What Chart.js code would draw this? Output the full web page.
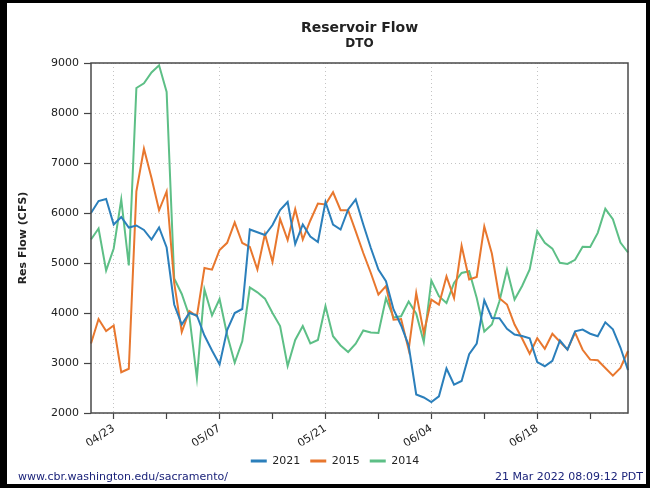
<!DOCTYPE html>
<html>
<head>
<meta charset="utf-8">
<title>Reservoir Flow - DTO</title>
<script src="https://cdn.jsdelivr.net/npm/chart.js@4.4.1/dist/chart.umd.min.js"></script>
<style>
  html, body { margin: 0; padding: 0; background: #fff; }
  #wrap { position: relative; width: 650px; height: 488px; }
  #frame { position: absolute; left: 0; top: 0; width: 650px; height: 488px; box-sizing: border-box;
           border-style: solid; border-color: #000; border-width: 3px 4px 4px 7px; pointer-events: none; }
  canvas { position: absolute; left: 0; top: 0; }
</style>
</head>
<body>
<div id="wrap">
  <canvas id="flowChart" width="650" height="488"></canvas>
  <div id="frame"></div>
</div>
<script>
// Daily dates 04/20 - 06/30
const dates = [
  '04/20','04/21','04/22','04/23','04/24','04/25','04/26','04/27','04/28','04/29','04/30',
  '05/01','05/02','05/03','05/04','05/05','05/06','05/07','05/08','05/09','05/10',
  '05/11','05/12','05/13','05/14','05/15','05/16','05/17','05/18','05/19','05/20',
  '05/21','05/22','05/23','05/24','05/25','05/26','05/27','05/28','05/29','05/30','05/31',
  '06/01','06/02','06/03','06/04','06/05','06/06','06/07','06/08','06/09','06/10',
  '06/11','06/12','06/13','06/14','06/15','06/16','06/17','06/18','06/19','06/20',
  '06/21','06/22','06/23','06/24','06/25','06/26','06/27','06/28','06/29','06/30'
];

// tick labels on the x axis (labelled + unlabelled tick marks)
const majorTicks = ['04/23', '05/07', '05/21', '06/04', '06/18'];
const minorTicks = ['04/30', '05/14', '05/28', '06/11', '06/25'];

// Res Flow (CFS)
const flow2021 = [
  6000, 6240, 6280, 5770, 5920, 5710, 5750, 5660, 5470, 5710, 5310,
  4170, 3770, 4000, 3950, 3550, 3250, 2970, 3660, 4000, 4080,
  5670, 5615, 5560, 5760, 6060, 6220, 5380, 5770, 5530, 5420,
  6220, 5770, 5670, 6070, 6270, 5770, 5300, 4870, 4635, 4070,
  3750, 3350, 2370, 2310, 2220, 2333, 2890, 2567, 2640, 3175,
  3390, 4255, 3900, 3895, 3685, 3570, 3540, 3495, 3018, 2935,
  3045, 3450, 3268, 3635, 3668, 3585, 3535, 3815, 3675, 3310, 2858
];
const flow2015 = [
  3390, 3880, 3640, 3750, 2815, 2885, 6435, 7285, 6700, 6055, 6430,
  4600, 3620, 4040, 3935, 4900, 4866, 5260, 5403, 5810, 5400,
  5323, 4870, 5580, 5020, 5880, 5460, 6075, 5470, 5850, 6190,
  6170, 6415, 6055, 6055, 5633, 5200, 4800, 4370, 4540, 3867,
  3880, 3267, 4400, 3600, 4267, 4167, 4730, 4300, 5343, 4670,
  4720, 5730, 5190, 4295, 4170, 3770, 3490, 3185, 3495, 3285,
  3585, 3425, 3268, 3608, 3265, 3067, 3054, 2900, 2747, 2900, 3240
];
const flow2014 = [
  5470, 5690, 4850, 5290, 6270, 4950, 8500, 8595, 8810, 8955, 8420,
  4690, 4380, 3940, 2700, 4470, 3950, 4280, 3567, 3005, 3433,
  4510, 4413, 4287, 4000, 3740, 2940, 3460, 3740, 3390, 3460,
  4140, 3535, 3350, 3220, 3385, 3650, 3610, 3600, 4295, 3910,
  3935, 4230, 3985, 3418, 4650, 4335, 4200, 4600, 4800, 4835,
  4300, 3628, 3770, 4235, 4870, 4270, 4540, 4870, 5636, 5403,
  5287, 5003, 4980, 5063, 5323, 5320, 5603, 6084, 5877, 5410, 5210
];

const yMin = 2000, yMax = 9000, yStep = 1000;

Chart.defaults.font.family = "'DejaVu Sans', sans-serif";
Chart.defaults.font.size = 11;
Chart.defaults.color = '#222';

const isMajor = i => majorTicks.includes(dates[i]);
const isTick = i => isMajor(i) || minorTicks.includes(dates[i]);

// box around the plot area
const plotFrame = {
  id: 'plotFrame',
  afterDatasetsDraw(chart) {
    const { ctx, chartArea: a } = chart;
    ctx.save();
    ctx.strokeStyle = '#4a4a4a';
    ctx.lineWidth = 1.5;
    ctx.strokeRect(a.left, a.top, a.right - a.left, a.bottom - a.top);
    ctx.restore();
  }
};

// footer texts
const footer = {
  id: 'footer',
  afterDraw(chart) {
    const ctx = chart.ctx;
    ctx.save();
    ctx.font = "11px 'DejaVu Sans', sans-serif";
    ctx.fillStyle = '#1b237a';
    ctx.textBaseline = 'middle';
    ctx.textAlign = 'left';
    ctx.fillText('www.cbr.washington.edu/sacramento/', 18, 477);
    ctx.textAlign = 'right';
    ctx.fillText('21 Mar 2022 08:09:12 PDT', 643, 477);
    ctx.restore();
  }
};

// nudge legend toward the plot centre like the original
const shiftLegend = {
  id: 'shiftLegend',
  afterLayout(chart) {
    if (chart.legend) { chart.legend.left += 17; chart.legend.right += 17; }
  }
};

const ctx = document.getElementById('flowChart').getContext('2d');
const flowChart = new Chart(ctx, {
  type: 'line',
  data: {
    labels: dates,
    datasets: [
      { label: '2021', data: flow2021, borderColor: '#2b7fbb', backgroundColor: '#2b7fbb' },
      { label: '2015', data: flow2015, borderColor: '#e8772e', backgroundColor: '#e8772e' },
      { label: '2014', data: flow2014, borderColor: '#5dbf86', backgroundColor: '#5dbf86' }
    ]
  },
  options: {
    responsive: false,
    devicePixelRatio: 1,
    animation: false,
    elements: {
      line: { borderWidth: 2, tension: 0, fill: false },
      point: { radius: 0 }
    },
    layout: { padding: { left: 8, right: 22, top: 8, bottom: 11.5 } },
    plugins: {
      title: {
        display: true, text: 'Reservoir Flow', fullSize: false, color: '#222',
        font: { size: 14, weight: 'bold' }, padding: { top: 11.6, bottom: 0 }
      },
      subtitle: {
        display: true, text: 'DTO', fullSize: false, color: '#222',
        font: { size: 12, weight: 'bold' }, padding: { top: 0, bottom: 12.2 }
      },
      legend: {
        position: 'bottom',
        labels: {
          usePointStyle: true, pointStyle: 'line', pointStyleWidth: 16,
          padding: 10, color: '#222', font: { size: 11 },
          generateLabels: c => Chart.defaults.plugins.legend.labels.generateLabels(c)
            .map(l => ({ ...l, lineWidth: 3 }))
        }
      },
      tooltip: { enabled: false }
    },
    scales: {
      x: {
        type: 'category',
        offset: false,
        grid: {
          color: c => isMajor(c.index) ? '#c4c4c4' : 'rgba(0,0,0,0)',
          tickColor: c => isTick(c.index) ? '#444' : 'rgba(0,0,0,0)',
          tickLength: 6, tickWidth: 1.2, lineWidth: 1
        },
        border: { display: false, dash: [1, 3] },
        ticks: {
          autoSkip: false, minRotation: 33, maxRotation: 33, padding: 3,
          callback: (v, i) => isMajor(i) ? dates[i] : ''
        },
        afterFit: s => { s.height = 32.5; }
      },
      y: {
        min: yMin, max: yMax,
        ticks: { stepSize: yStep, padding: 5, callback: v => String(v) },
        grid: { color: '#c4c4c4', tickColor: '#444', tickLength: 7, tickWidth: 1.2, lineWidth: 1 },
        border: { display: false, dash: [1, 3] },
        title: {
          display: true, text: 'Res Flow (CFS)', color: '#222',
          font: { size: 11, weight: 'bold' }, padding: { top: 9, bottom: 0 }
        },
        afterFit: s => { s.width = 83; }
      }
    }
  },
  plugins: [plotFrame, footer, shiftLegend]
});
</script>
</body>
</html>
